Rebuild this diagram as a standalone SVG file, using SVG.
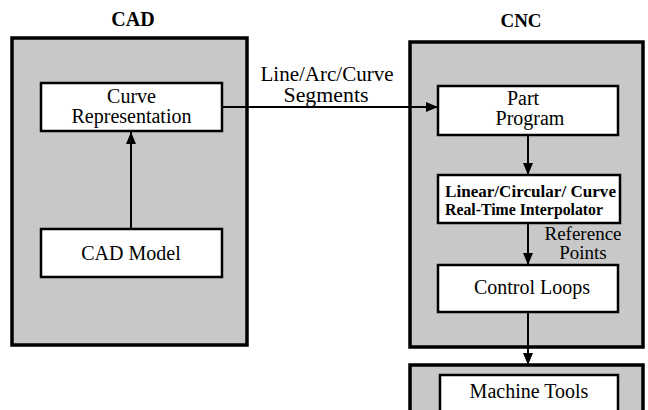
<svg xmlns="http://www.w3.org/2000/svg" width="648" height="410" viewBox="0 0 648 410">
<style>
.outer{fill:#c8c8c8;stroke:#000;stroke-width:3.5}
.inner{fill:#fff;stroke:#000;stroke-width:2.5}
.t{font-family:"Liberation Serif","Times New Roman",serif;font-size:20px;fill:#000;text-anchor:middle}
.title{font-weight:bold}
.interp{text-anchor:start;font-size:16.5px;font-weight:bold}
.lbl{font-size:19px}
.conn{stroke:#000;stroke-width:2;fill:none;marker-end:url(#ah)}
</style>
<defs>
<marker id="ah" markerUnits="userSpaceOnUse" markerWidth="12" markerHeight="10" refX="12" refY="5" orient="auto">
<path d="M0,0 L12,5 L0,10 z" fill="#000"/>
</marker>
</defs>
<rect width="648" height="410" fill="#fff"/>
<text class="t title" x="133" y="26">CAD</text>
<text class="t title" x="521" y="27" style="font-size:19px">CNC</text>
<g id="cad">
<rect class="outer" x="12" y="38" width="235" height="307"/>
</g>
<g id="cnc">
<rect class="outer" x="410" y="42" width="233" height="305"/>
</g>
<g id="machine-tools-outer">
<rect class="outer" x="410" y="365" width="233" height="60"/>
</g>
<g id="curve-representation">
<rect class="inner" x="41" y="83" width="181" height="48"/>
<text class="t" x="131.5" y="103">Curve</text>
<text class="t" x="131.5" y="123">Representation</text>
</g>
<g id="cad-model">
<rect class="inner" x="41" y="229" width="181" height="48"/>
<text class="t" x="131" y="260">CAD Model</text>
</g>
<g id="part-program">
<rect class="inner" x="438" y="86" width="180" height="49"/>
<text class="t" x="523" y="105">Part</text>
<text class="t" x="530" y="125">Program</text>
</g>
<g id="interpolator">
<rect class="inner" x="438" y="175" width="182" height="48"/>
<text class="t interp" x="445" y="197" textLength="171" lengthAdjust="spacingAndGlyphs">Linear/Circular/ Curve</text>
<text class="t interp" x="445" y="215" textLength="158" lengthAdjust="spacingAndGlyphs">Real-Time Interpolator</text>
</g>
<g id="control-loops">
<rect class="inner" x="438" y="265" width="180" height="47"/>
<text class="t" x="532" y="294">Control Loops</text>
</g>
<g id="machine-tools">
<rect class="inner" x="440" y="375" width="178" height="50"/>
<text class="t" x="529" y="398">Machine Tools</text>
</g>
<g id="connectors">
<line class="conn" x1="131" y1="229" x2="131" y2="132"/>
<line class="conn" x1="222" y1="107" x2="438" y2="107"/>
<line class="conn" x1="528" y1="135" x2="528" y2="175"/>
<line class="conn" x1="528" y1="223" x2="528" y2="265"/>
<line class="conn" x1="528" y1="312" x2="528" y2="365"/>
</g>
<g id="labels">
<text class="t" x="327" y="81" textLength="133" lengthAdjust="spacingAndGlyphs">Line/Arc/Curve</text>
<text class="t" x="326" y="102" textLength="85" lengthAdjust="spacingAndGlyphs">Segments</text>
<text class="t lbl" x="583" y="240">Reference</text>
<text class="t lbl" x="583" y="259">Points</text>
</g>
</svg>
